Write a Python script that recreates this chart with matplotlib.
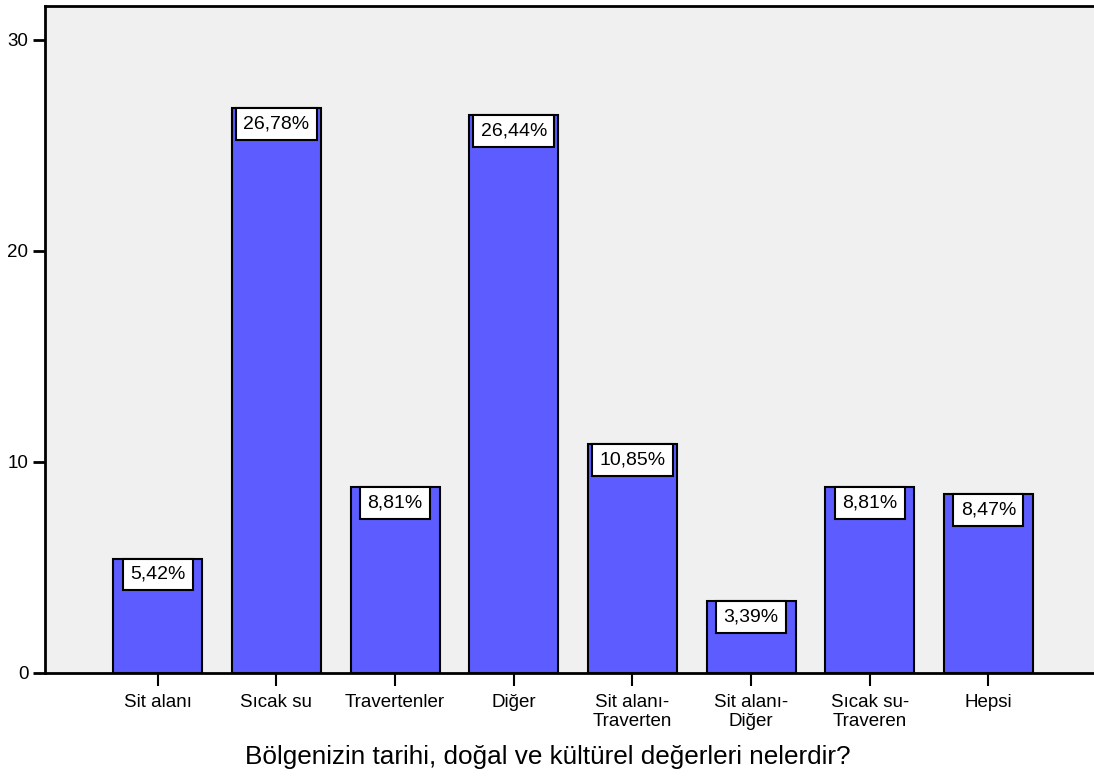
import matplotlib.pyplot as plt
import numpy as np

plt.rcParams['font.family'] = ['Liberation Sans', 'DejaVu Sans']

# Data
categories = ['Sit alanı', 'Sıcak su', 'Travertenler', 'Diğer',
              'Sit alanı-\nTraverten', 'Sit alanı-\nDiğer', 'Sıcak su-\nTraveren', 'Hepsi']
percents = [5.42, 26.78, 8.81, 26.44, 10.85, 3.39, 8.81, 8.47]
value_labels = ['5,42%', '26,78%', '8,81%', '26,44%', '10,85%', '3,39%', '8,81%', '8,47%']
y_ticks = [0, 10, 20, 30]

fig = plt.figure(figsize=(10.94, 7.78), dpi=100)
ax = fig.add_axes([0.0411, 0.135, 0.9589, 0.857])
ax.set_facecolor('#F0F0F0')

x = np.arange(len(categories))
ax.bar(x, percents, width=0.75, color='#5C5CFF', edgecolor='black', linewidth=1.5, zorder=2)

# value labels in white boxes hanging from the bar tops
fs = 14
pad = 0.38
for xi, v, lbl in zip(x, percents, value_labels):
    ax.annotate(lbl, (xi, v), xytext=(0, -pad * fs), textcoords='offset points',
                ha='center', va='top', fontsize=fs, zorder=3,
                bbox=dict(boxstyle=f'square,pad={pad}', facecolor='white', edgecolor='black', linewidth=1.5))

ax.set_xlim(-0.95, 7.89)
ax.set_ylim(0, 31.6)
ax.set_yticks(y_ticks)
ax.set_xticks(x)
ax.set_xticklabels(categories, fontsize=13.5, linespacing=1.15)
ax.tick_params(axis='y', labelsize=13.5, length=9, width=2, pad=3)
ax.tick_params(axis='x', length=9, width=1.5, pad=6)

for side in ['left', 'bottom', 'top']:
    ax.spines[side].set_linewidth(2)
ax.spines['right'].set_visible(False)

ax.set_xlabel('Bölgenizin tarihi, doğal ve kültürel değerleri nelerdir?', fontsize=18.8)
ax.xaxis.set_label_coords(0.479, -0.108, transform=ax.transAxes)

fig.savefig('out.png', dpi=100)
